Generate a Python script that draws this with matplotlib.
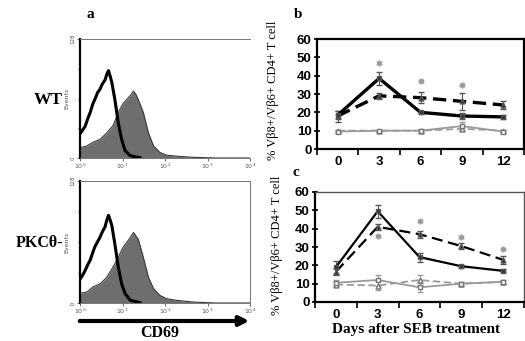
import matplotlib
matplotlib.use('Agg')
import matplotlib.pyplot as plt
from matplotlib.patches import FancyArrowPatch

# ---------------- Panel a: CD69 histograms (x = log10 CD69, y = events)
wt_ctrl_log = [0.0, 0.06, 0.12, 0.18, 0.24, 0.30, 0.35, 0.41, 0.47, 0.53, 0.59, 0.63, 0.67, 0.71, 0.75, 0.82, 0.90, 0.98, 1.06, 1.18, 1.41]
wt_ctrl_events = [26, 30, 34, 42, 49, 58, 63, 70, 74, 80, 84, 90, 94, 88, 81, 63, 38, 20, 8, 2.5, 0.3]
wt_seb_log = [0.0, 0.16, 0.31, 0.47, 0.63, 0.78, 0.90, 1.02, 1.14, 1.20, 1.26, 1.32, 1.37, 1.49, 1.61, 1.73, 1.88, 2.04, 2.27, 2.67, 3.2, 4.0]
wt_seb_events = [11, 13, 17, 20, 27, 35, 49, 59, 65, 68, 72, 68, 63, 49, 27, 13, 6, 3, 2, 0.7, 0, 0]

ko_ctrl_log = [0.0, 0.06, 0.12, 0.18, 0.24, 0.30, 0.35, 0.41, 0.47, 0.53, 0.59, 0.63, 0.67, 0.71, 0.75, 0.82, 0.90, 0.98, 1.06, 1.18, 1.41]
ko_ctrl_events = [25, 29, 34, 40, 45, 53, 59, 64, 69, 75, 80, 87, 92, 87, 81, 62, 38, 20, 10, 3, 0.3]
ko_seb_log = [0.0, 0.16, 0.31, 0.47, 0.63, 0.78, 0.90, 1.02, 1.14, 1.20, 1.26, 1.32, 1.37, 1.49, 1.61, 1.73, 1.88, 2.04, 2.27, 2.67, 3.2, 4.0]
ko_seb_events = [10, 11.5, 17, 20, 27, 38, 48, 59, 66, 70, 74, 70, 67, 48, 27, 15, 8, 4.5, 2.8, 1, 0, 0]

hist_xticks = [0, 1, 2, 3, 4]
hist_xticklabels = [r'$10^0$', r'$10^1$', r'$10^2$', r'$10^3$', r'$10^4$']

# ---------------- Panels b and c: % Vb8+/Vb6+ CD4+ T cells
days = [0, 3, 6, 9, 12]

b_solid = [18.5, 38.5, 20, 18, 17.5]
b_solid_err = [2, 3.5, 1, 1.5, 1]
b_dashed = [18, 29, 28, 26, 24]
b_dashed_err = [3, 1.5, 3, 4.5, 2]
b_grey_solid = [9.5, 10, 10, 12.5, 9.5]
b_grey_solid_err = [1, 0.5, 1, 2, 1]
b_grey_dashed = [10, 10, 10, 11, 10]
b_grey_dashed_err = [0.5, 0.5, 0.5, 1, 0.5]
b_star_x = [3, 6, 9]
b_star_y = [47, 37, 35]

c_solid = [19, 49.5, 24.5, 19.5, 17]
c_solid_err = [3.5, 3.5, 2.5, 0.8, 0.8]
c_dashed = [16.5, 41, 37, 30.5, 23]
c_dashed_err = [2, 1.5, 2, 1.5, 2]
c_grey_solid = [10.5, 12, 8, 10, 11]
c_grey_solid_err = [1.5, 3, 2.5, 1, 1]
c_grey_dashed = [9.5, 9, 12, 10, 11]
c_grey_dashed_err = [1.5, 2.5, 2.5, 1, 1]
c_star_x = [3, 6, 9, 12]
c_star_y = [36, 44, 35.5, 29]

W, H = 525, 341
fig = plt.figure(figsize=(W / 100, H / 100), dpi=100)

SERIF = ['Liberation Serif', 'DejaVu Serif']
SANS = ['Liberation Sans', 'DejaVu Sans']


def px_axes(l, t, r, b):
    return fig.add_axes([l / W, 1 - b / H, (r - l) / W, (b - t) / H])


GREYFILL = '#6e6e6e'


def hist_panel(ax, ctrl_x, ctrl_y, seb_x, seb_y, right_spine):
    ax.fill_between(seb_x, seb_y, 0, color=GREYFILL, lw=0)
    ax.plot(seb_x, seb_y, color='#3a3a3a', lw=0.8)
    ax.plot(ctrl_x, ctrl_y, color='black', lw=2.2)
    ax.set_xlim(0, 4)
    ax.set_ylim(0, 128)
    ax.set_xticks(hist_xticks)
    ax.set_xticklabels(hist_xticklabels, fontsize=4.5, color='#555555')
    ax.set_yticks([0, 128])
    ax.set_yticklabels(['0', '128'], fontsize=4, rotation=90, va='center', color='#555555')
    ax.set_yticks([32, 64, 96], minor=True)
    ax.tick_params(axis='both', which='major', length=2, width=0.6, pad=1, colors='#555555')
    ax.tick_params(axis='y', which='minor', length=1.5, width=0.6)
    ax.set_ylabel('Events', fontsize=4.5, color='#555555', labelpad=1)
    ax.spines['left'].set_linewidth(1.6)
    ax.spines['left'].set_color('black')
    for s in ['top', 'bottom', 'right']:
        ax.spines[s].set_linewidth(0.7)
        ax.spines[s].set_color('#777777')
    ax.spines['right'].set_visible(right_spine)


ax_a1 = px_axes(80, 39, 250, 158)
hist_panel(ax_a1, wt_ctrl_log, wt_ctrl_events, wt_seb_log, wt_seb_events, False)
ax_a2 = px_axes(80, 181, 250, 303)
hist_panel(ax_a2, ko_ctrl_log, ko_ctrl_events, ko_seb_log, ko_seb_events, True)

fig.text(90 / W, 1 - 15 / H, 'a', family=SERIF, weight='bold', fontsize=11, ha='center', va='center')
fig.text(48 / W, 1 - 100 / H, 'WT', family=SERIF, weight='bold', fontsize=12.5, ha='center', va='center')
fig.text(39 / W, 1 - 243 / H, 'PKCθ-', family=SERIF, weight='bold', fontsize=11.5, ha='center', va='center')
fig.text(160 / W, 1 - 333 / H, 'CD69', family=SERIF, weight='bold', fontsize=11.5, ha='center', va='center')
fig.add_artist(FancyArrowPatch((77 / W, 1 - 321 / H), (252 / W, 1 - 321 / H),
                               transform=fig.transFigure, arrowstyle='-|>',
                               mutation_scale=14, lw=3, color='black'))

GREY = '#9a9a9a'


def line_panel(ax, solid, solid_err, dashed, dashed_err, gsolid, gsolid_err,
               gdashed, gdashed_err, sx, sy, lw_main, dash):
    ax.errorbar(days, gdashed, yerr=gdashed_err, color=GREY, lw=1.3, ls=(0, (4, 2)),
                marker='^', ms=3.5, mfc='white', mec='#777777', capsize=2, elinewidth=0.8, zorder=2)
    ax.errorbar(days, gsolid, yerr=gsolid_err, color=GREY, lw=1.3,
                marker='s', ms=3.5, mfc='white', mec='#777777', capsize=2, elinewidth=0.8, zorder=2)
    ax.errorbar(days, dashed, yerr=dashed_err, color='black', lw=lw_main, ls=dash,
                marker='^', ms=3.5, mfc='#333333', mec='#555555', capsize=2, elinewidth=0.8,
                ecolor='#555555', zorder=3)
    ax.errorbar(days, solid, yerr=solid_err, color='black', lw=lw_main,
                marker='s', ms=3.5, mfc='#333333', mec='#555555', capsize=2, elinewidth=0.8,
                ecolor='#555555', zorder=3)
    ax.plot(sx, sy, ls='none', marker='$*$', ms=3.5, color='#999999', zorder=4)
    ax.set_xlim(-1.5, 13.5)
    ax.set_ylim(0, 60)
    ax.set_yticks([0, 10, 20, 30, 40, 50, 60])
    ax.set_xticks(days)
    ax.set_xticks([-1.5, 1.5, 4.5, 7.5, 10.5, 13.5], minor=True)
    ax.tick_params(axis='x', which='major', length=0, pad=5)
    ax.tick_params(axis='x', which='minor', length=4, width=1.2, direction='out')
    ax.tick_params(axis='y', which='major', length=4, width=1.2, direction='inout', pad=2)
    for lab in ax.get_xticklabels() + ax.get_yticklabels():
        lab.set_family(SANS)
        lab.set_weight('bold')
        lab.set_fontsize(9.5)
    for s in ax.spines.values():
        s.set_linewidth(1.6)
        s.set_color('black')


ax_b = px_axes(317, 39, 524, 149)
line_panel(ax_b, b_solid, b_solid_err, b_dashed, b_dashed_err, b_grey_solid, b_grey_solid_err,
           b_grey_dashed, b_grey_dashed_err, b_star_x, b_star_y, 2.4, (0, (4, 2)))
ax_c = px_axes(315, 192, 524, 302)
line_panel(ax_c, c_solid, c_solid_err, c_dashed, c_dashed_err, c_grey_solid, c_grey_solid_err,
           c_grey_dashed, c_grey_dashed_err, c_star_x, c_star_y, 1.6, (0, (5, 2.5)))
ax_c.spines['top'].set_color('#555555')
ax_c.spines['right'].set_color('#555555')
ax_c.spines['top'].set_linewidth(1.0)
ax_c.spines['right'].set_linewidth(1.0)

ylab = '% Vβ8+/Vβ6+ CD4+ T cell'
fig.text(273 / W, 1 - 90 / H, ylab, family=SERIF, fontsize=9, rotation=90, ha='center', va='center')
fig.text(277 / W, 1 - 245 / H, ylab, family=SERIF, fontsize=9, rotation=90, ha='center', va='center')
fig.text(298 / W, 1 - 14 / H, 'b', family=SERIF, weight='bold', fontsize=11, ha='center', va='center')
fig.text(296 / W, 1 - 173 / H, 'c', family=SERIF, weight='bold', fontsize=11, ha='center', va='center')
fig.text(416 / W, 1 - 330 / H, 'Days after SEB treatment', family=SERIF, weight='bold',
         fontsize=11, ha='center', va='center')

fig.savefig('out.png', dpi=100)
